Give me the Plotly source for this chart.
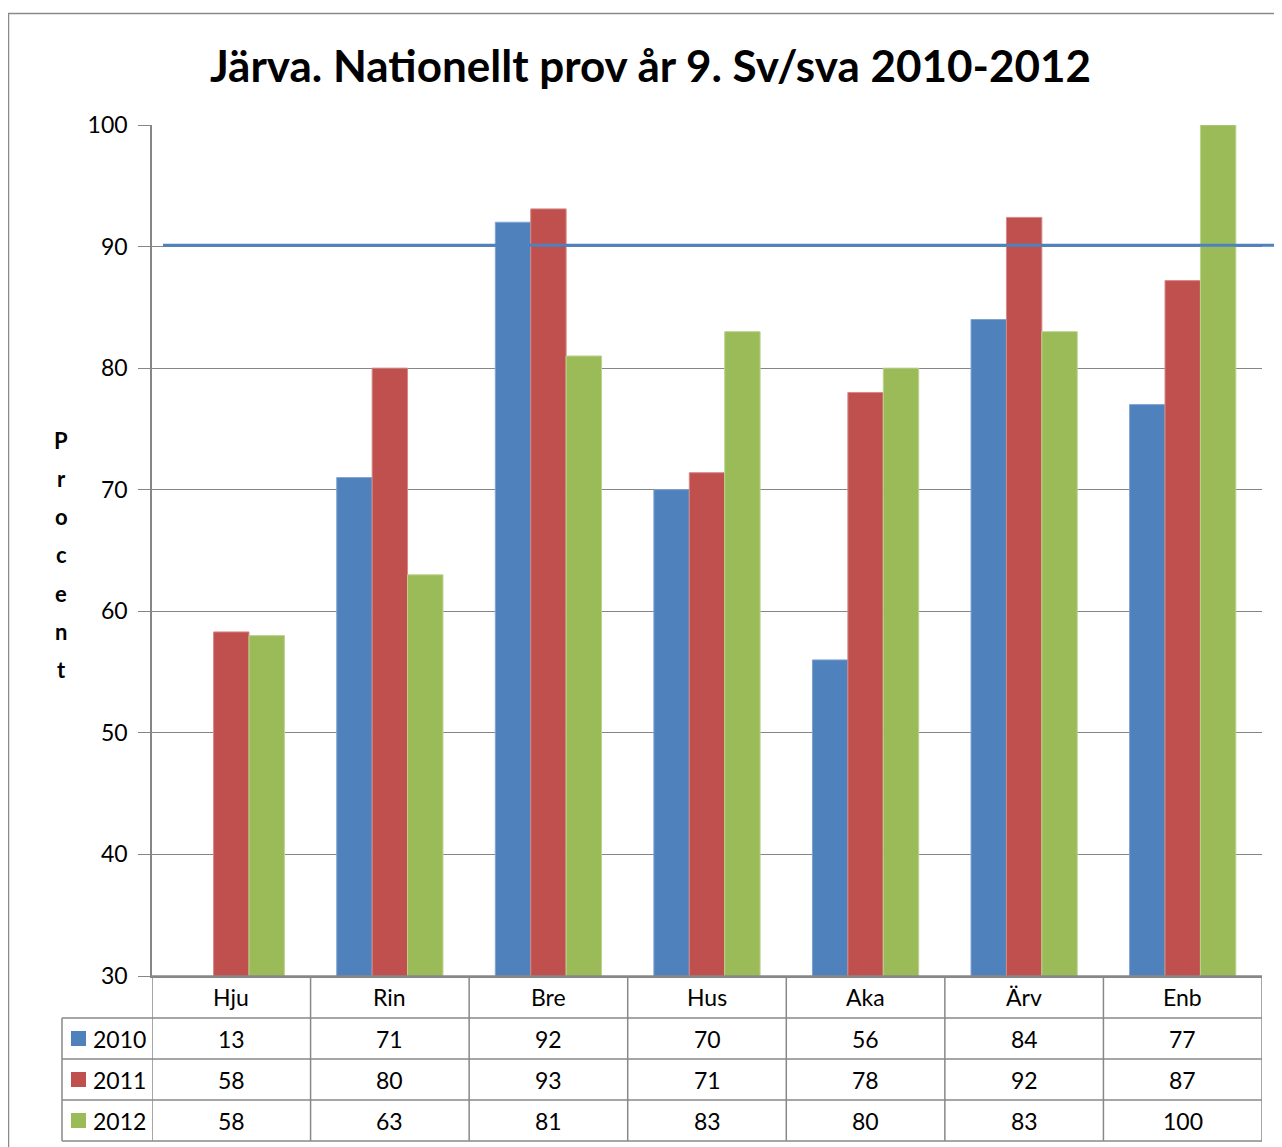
import plotly.graph_objects as go

categories = ["Hju", "Rin", "Bre", "Hus", "Aka", "Ärv", "Enb"]
years = ["2010", "2011", "2012"]
v2010 = [13, 71, 92, 70, 56, 84, 77]
v2011 = [58.3, 80, 93.1, 71.4, 78, 92.4, 87.2]
v2012 = [58, 63, 81, 83, 80, 83, 100]
target = 90.1
yticks = [30, 40, 50, 60, 70, 80, 90, 100]

colors = ["#4F81BD", "#C0504D", "#9BBB59"]
edge = ["#7FA3D1", "#D48A88", "#BCD38E"]
series = [v2010, v2011, v2012]

OFF = 8  # page body margin in the browser
W, H = 1282 - OFF, 1147 - OFF
L, R, T, B = 152 - OFF, 20, 125 - OFF, 1147 - 976
PW, PH = W - L - R, H - T - B
FONT = "Lato"
GRID = "#868686"


def py(p):
    return (976 - p) / PH


def px(p):
    return (p - 152) / PW


fig = go.Figure()
for yr, vals, c, e in zip(years, series, colors, edge):
    fig.add_trace(go.Bar(x=categories, y=vals, name=yr, marker=dict(color=c, line=dict(color=e, width=1))))

shapes = []
annotations = []

# target line
shapes.append(dict(type="line", xref="paper", yref="y", x0=px(163), x1=px(1290), y0=target, y1=target,
                   line=dict(color="#4F81BD", width=3), layer="above"))

# outer frame
shapes.append(dict(type="line", xref="paper", yref="paper", x0=px(8.5), x1=px(8.5), y0=py(13), y1=py(1160),
                   line=dict(color="#8a8a8a", width=1.5)))
shapes.append(dict(type="line", xref="paper", yref="paper", x0=px(8), x1=px(1290), y0=py(13.5), y1=py(13.5),
                   line=dict(color="#8a8a8a", width=1.5)))

# table
row_lines = [976, 1018, 1059, 1100, 1141]
tcol = "#888888"
for i, r in enumerate(row_lines):
    x0 = px(152) if i == 0 else px(62)
    shapes.append(dict(type="line", xref="paper", yref="paper", x0=x0, x1=1, y0=py(r), y1=py(r),
                       line=dict(color=tcol, width=1.5)))
for k in range(len(categories) + 1):
    shapes.append(dict(type="line", xref="x", yref="paper", x0=k - 0.5, x1=k - 0.5, y0=py(976), y1=py(1141),
                       line=dict(color=tcol, width=1.5)))
shapes.append(dict(type="line", xref="paper", yref="paper", x0=px(62), x1=px(62), y0=py(1018), y1=py(1141),
                   line=dict(color=tcol, width=1.5)))

txt = dict(family=FONT, size=23, color="#000")
for c in categories:
    annotations.append(dict(x=c, xref="x", y=py(997), yref="paper", text=c, showarrow=False,
                            xanchor="center", yanchor="middle", font=txt))
row_centers = [1038.5, 1079.5, 1120.5]
for yr, vals, col, rc in zip(years, series, colors, row_centers):
    for c, v in zip(categories, vals):
        annotations.append(dict(x=c, xref="x", y=py(rc), yref="paper", text=str(round(v)), showarrow=False,
                                xanchor="center", yanchor="middle", font=txt))
    shapes.append(dict(type="rect", xref="paper", yref="paper", x0=px(71), x1=px(86), y0=py(rc + 7.5), y1=py(rc - 7.5),
                       fillcolor=col, line=dict(width=0)))
    annotations.append(dict(x=px(91), xref="paper", xanchor="left", y=py(rc), yref="paper", yanchor="middle",
                            text=yr, showarrow=False, font=txt))

# y axis title (stacked letters)
for i, ch in enumerate("Procent"):
    annotations.append(dict(x=px(61), xref="paper", y=py(440 + i * 38.3), yref="paper", text=ch, showarrow=False,
                            xanchor="center", yanchor="middle",
                            font=dict(family=FONT, size=22, color="#000", weight="bold")))

# title
annotations.append(dict(x=px(650), xref="paper", y=py(65), yref="paper",
                        text="Järva. Nationellt prov år 9. Sv/sva 2010-2012",
                        showarrow=False, xanchor="center", yanchor="middle",
                        font=dict(family=FONT, size=44, color="#000", weight="bold")))

fig.update_layout(
    width=W, height=H,
    margin=dict(l=L, r=R, t=T, b=B, autoexpand=False),
    paper_bgcolor="white", plot_bgcolor="white",
    barmode="group", bargap=0.33, bargroupgap=0,
    showlegend=False,
    shapes=shapes, annotations=annotations,
    xaxis=dict(showticklabels=False, showgrid=False, showline=True, linecolor=GRID, linewidth=1.5,
               ticks="", range=[-0.5, 6.5], fixedrange=True),
    yaxis=dict(range=[30, 100], tickvals=yticks, showgrid=True, gridcolor=GRID, gridwidth=1,
               showline=True, linecolor=GRID, linewidth=1.5, ticks="outside", ticklen=12, tickcolor=GRID,
               ticklabelstandoff=6,
               tickfont=dict(family=FONT, size=23, color="#000"), zeroline=False),
)

fig.write_html("out.html")
